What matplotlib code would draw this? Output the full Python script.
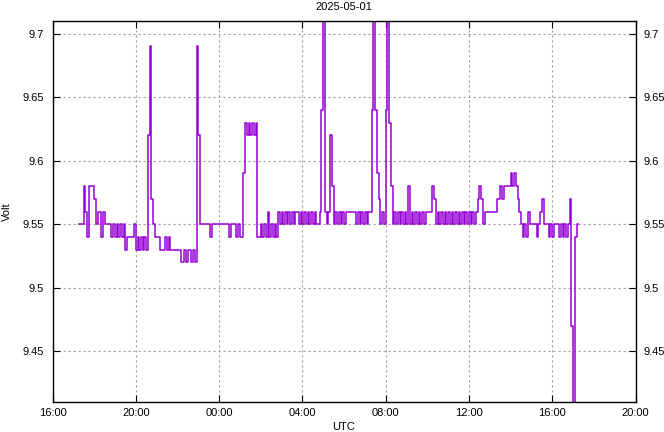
import matplotlib
matplotlib.use("Agg")
import matplotlib.pyplot as plt
import matplotlib.dates as mdates
from matplotlib.ticker import FuncFormatter
import pandas as pd

title = "2025-05-01"
xlabel = "UTC"
ylabel = "Volt"
start_time = "2025-04-30 17:15"
sample_minutes = 5
x_range = ("2025-04-30 16:00", "2025-05-01 20:00")
y_range = (9.41, 9.71)
y_ticks = [9.45, 9.5, 9.55, 9.6, 9.65, 9.7]

# battery voltage, one row per hour, 5-minute samples
v1715 = [9.55, 9.55, 9.55, 9.58, 9.56, 9.54, 9.58, 9.58, 9.58, 9.57, 9.55, 9.56]
v1815 = [9.56, 9.54, 9.56, 9.55, 9.55, 9.55, 9.55, 9.54, 9.55, 9.54, 9.55, 9.54]
v1915 = [9.55, 9.54, 9.55, 9.53, 9.54, 9.54, 9.54, 9.54, 9.55, 9.53, 9.54, 9.53]
v2015 = [9.54, 9.53, 9.54, 9.53, 9.62, 9.69, 9.57, 9.55, 9.54, 9.54, 9.54, 9.53]
v2115 = [9.53, 9.53, 9.54, 9.53, 9.54, 9.53, 9.53, 9.53, 9.53, 9.53, 9.53, 9.52]
v2215 = [9.52, 9.53, 9.52, 9.53, 9.53, 9.52, 9.53, 9.52, 9.69, 9.62, 9.55, 9.55]
v2315 = [9.55, 9.55, 9.55, 9.55, 9.54, 9.55, 9.55, 9.55, 9.55, 9.55, 9.55, 9.55]
v0015 = [9.55, 9.55, 9.55, 9.54, 9.55, 9.55, 9.55, 9.54, 9.55, 9.54, 9.54, 9.59]
v0115 = [9.63, 9.62, 9.63, 9.62, 9.63, 9.62, 9.63, 9.54, 9.54, 9.55, 9.54, 9.55]
v0215 = [9.54, 9.56, 9.54, 9.55, 9.54, 9.55, 9.54, 9.56, 9.55, 9.56, 9.55, 9.56]
v0315 = [9.55, 9.56, 9.55, 9.56, 9.55, 9.56, 9.56, 9.55, 9.56, 9.55, 9.56, 9.55]
v0415 = [9.56, 9.55, 9.56, 9.55, 9.56, 9.55, 9.55, 9.56, 9.64, 9.80, 9.56, 9.55]
v0515 = [9.56, 9.62, 9.58, 9.55, 9.56, 9.55, 9.56, 9.55, 9.56, 9.55, 9.56, 9.56]
v0615 = [9.56, 9.56, 9.56, 9.56, 9.55, 9.56, 9.55, 9.56, 9.55, 9.56, 9.55, 9.56]
v0715 = [9.56, 9.64, 9.80, 9.64, 9.59, 9.57, 9.55, 9.56, 9.55, 9.64, 9.80, 9.63]
v0815 = [9.58, 9.55, 9.56, 9.55, 9.56, 9.55, 9.56, 9.55, 9.56, 9.55, 9.58, 9.55]
v0915 = [9.56, 9.55, 9.56, 9.55, 9.56, 9.55, 9.56, 9.55, 9.56, 9.56, 9.56, 9.56]
v1015 = [9.58, 9.57, 9.55, 9.56, 9.55, 9.56, 9.55, 9.56, 9.55, 9.56, 9.55, 9.56]
v1115 = [9.55, 9.56, 9.55, 9.56, 9.55, 9.56, 9.55, 9.56, 9.55, 9.56, 9.55, 9.56]
v1215 = [9.55, 9.56, 9.57, 9.58, 9.57, 9.55, 9.56, 9.56, 9.56, 9.56, 9.56, 9.56]
v1315 = [9.56, 9.57, 9.57, 9.58, 9.57, 9.58, 9.58, 9.58, 9.58, 9.59, 9.58, 9.59]
v1415 = [9.58, 9.57, 9.56, 9.55, 9.54, 9.55, 9.54, 9.56, 9.55, 9.55, 9.55, 9.55]
v1515 = [9.54, 9.55, 9.56, 9.57, 9.55, 9.55, 9.55, 9.54, 9.55, 9.54, 9.55, 9.55]
v1615 = [9.55, 9.54, 9.55, 9.54, 9.55, 9.54, 9.55, 9.57, 9.47, 9.00, 9.54, 9.55]
v1715_end = [9.55]

rows = [v1715, v1815, v1915, v2015, v2115, v2215, v2315, v0015, v0115, v0215,
        v0315, v0415, v0515, v0615, v0715, v0815, v0915, v1015, v1115, v1215,
        v1315, v1415, v1515, v1615, v1715_end]
volts = [v for r in rows for v in r]
times = pd.date_range(start=start_time, periods=len(volts), freq=f"{sample_minutes}min")

plt.rcParams["font.family"] = ["Liberation Sans", "DejaVu Sans"]
fig = plt.figure(figsize=(6.64, 4.32), dpi=100)
ax = fig.add_axes([52.5 / 664, 1 - 402 / 432, 583 / 664, 381 / 432])

ax.plot(times, volts, drawstyle="steps-post", color="#9400D3", linewidth=1.1)

ax.set_xlim(pd.Timestamp(x_range[0]), pd.Timestamp(x_range[1]))
ax.set_ylim(*y_range)
ax.set_yticks(y_ticks)
ax.yaxis.set_major_formatter(FuncFormatter(lambda v, p: f"{v:g}"))
ax.xaxis.set_major_locator(mdates.HourLocator(byhour=[0, 4, 8, 12, 16, 20]))
ax.xaxis.set_major_formatter(mdates.DateFormatter("%H:%M"))

ax.grid(True, color="#a0a0a0", linestyle=(0, (2, 2.5)), linewidth=0.8)
ax.tick_params(direction="in", length=5, width=0.8, top=True, right=True,
               labelright=True, labelsize=8)
ax.tick_params(axis="x", pad=4)
ax.tick_params(axis="y", pad=6)
for s in ax.spines.values():
    s.set_linewidth(1.0)

ax.set_xlabel(xlabel, fontsize=8, labelpad=3)
ax.set_ylabel(ylabel, fontsize=8, labelpad=8)
ax.set_title(title, fontsize=8, pad=8)

fig.savefig("out.png", dpi=100)
